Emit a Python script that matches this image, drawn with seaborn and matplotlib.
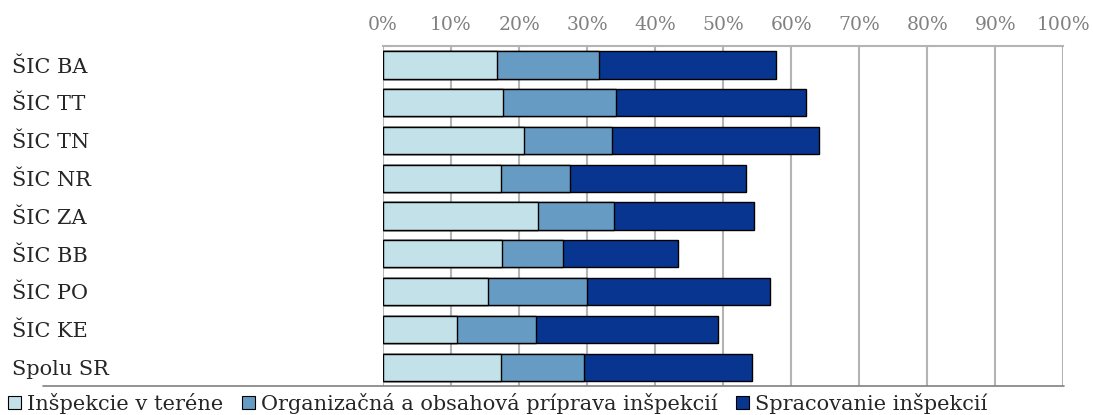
import pandas as pd
import seaborn as sns
import matplotlib.pyplot as plt
from matplotlib.patches import Patch
from matplotlib.lines import Line2D

regions = ['ŠIC BA', 'ŠIC TT', 'ŠIC TN', 'ŠIC NR', 'ŠIC ZA', 'ŠIC BB', 'ŠIC PO', 'ŠIC KE', 'Spolu SR']
teren = [16.7, 17.7, 20.7, 17.4, 22.8, 17.5, 15.5, 10.9, 17.3]
priprava = [15.1, 16.5, 13.0, 10.1, 11.2, 9.0, 14.5, 11.6, 12.2]
spracovanie = [25.9, 27.9, 30.3, 25.9, 20.5, 16.9, 26.9, 26.8, 24.8]
series_names = ['Inšpekcie v teréne', 'Organizačná a obsahová príprava inšpekcií', 'Spracovanie inšpekcií']
colors = ['#c3e1e8', '#669bc3', '#083590']
tick_vals = list(range(0, 101, 10))

sns.set_style('white')
plt.rcParams['font.family'] = ['DejaVu Serif']

df = pd.DataFrame({'region': regions, 'teren': teren, 'priprava': priprava, 'spracovanie': spracovanie})
df['s1'] = df['teren']
df['s2'] = df['teren'] + df['priprava']
df['s3'] = df['s2'] + df['spracovanie']

fig, ax = plt.subplots(figsize=(10.93, 4.15), dpi=100)
fig.subplots_adjust(left=0.3504, right=0.9730, top=0.8891, bottom=0.0699)

# draw cumulative totals back to front
for col, c in zip(['s3', 's2', 's1'], colors[::-1]):
    sns.barplot(data=df, x=col, y='region', color=c, edgecolor='black', linewidth=1.0,
                width=0.72, saturation=1, ax=ax, zorder=3)

ax.set_xlim(0, 100)
ax.set_ylim(8.5, -0.5)
ax.set_xticks(tick_vals)
ax.set_xticklabels([f'{v}%' for v in tick_vals])
ax.xaxis.tick_top()
ax.tick_params(axis='x', length=0, labelsize=13.5, labelcolor='#808080', pad=9)
ax.tick_params(axis='y', length=0, labelsize=15, pad=(383 - 12) * 0.72)
for lab in ax.get_yticklabels():
    lab.set_horizontalalignment('left')
ax.set_xlabel('')
ax.set_ylabel('')
ax.grid(axis='x', color='#b4b4b4', linewidth=1.5, zorder=0)
ax.set_axisbelow(True)
for s in ['left', 'right', 'bottom']:
    ax.spines[s].set_visible(False)
ax.spines['top'].set_color('#b4b4b4')
ax.spines['top'].set_linewidth(1.5)

# bottom rule spanning under the labels
fig.add_artist(Line2D([43 / 1093, 1064 / 1093], [1 - 386 / 415, 1 - 386 / 415],
                      color='#808080', linewidth=1.2, transform=fig.transFigure))

handles = [Patch(facecolor=c, edgecolor='black', linewidth=0.8) for c in colors]
fig.legend(handles, series_names, loc='center left', bbox_to_anchor=(0.003, 1 - 403 / 415),
           ncol=3, frameon=False, fontsize=15, handlelength=0.6, handleheight=0.6,
           handletextpad=0.3, columnspacing=0.9, borderaxespad=0, borderpad=0.25)

plt.savefig('out.png', dpi=100)
